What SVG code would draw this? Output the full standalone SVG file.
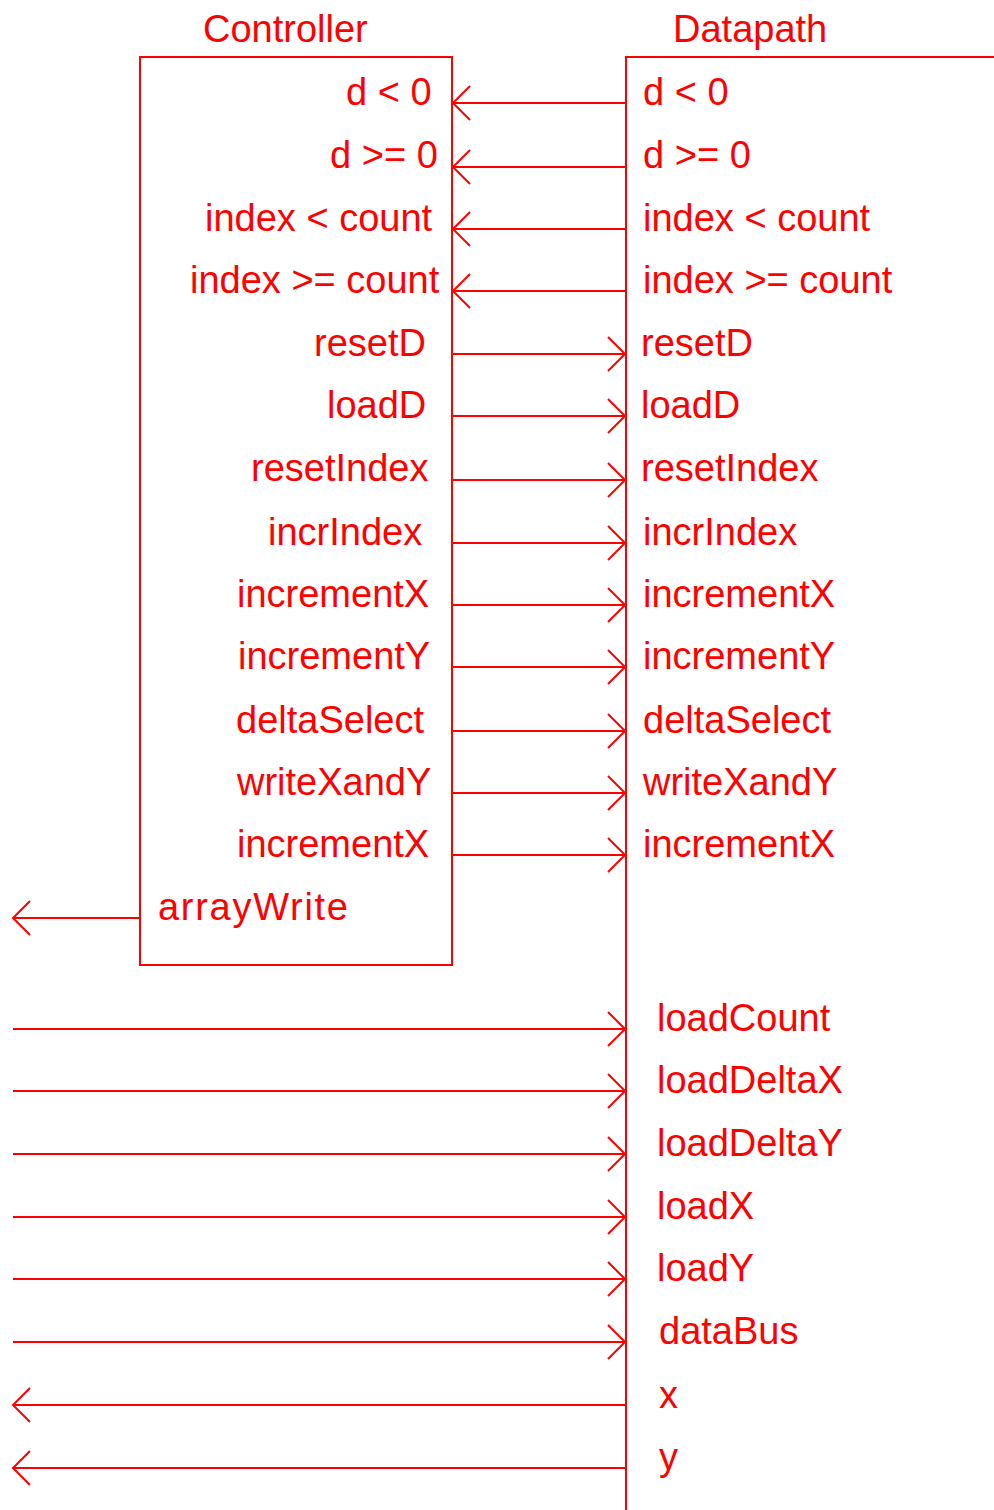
<svg xmlns="http://www.w3.org/2000/svg" width="994" height="1510" viewBox="0 0 994 1510">
<style>
text{font-family:"Liberation Sans",Arial,sans-serif;font-size:38px;fill:#ff0000}
.b{fill:none;stroke:#ff0000;stroke-width:2}
.c line{stroke:#ff0000;stroke-width:2;marker-end:url(#ah)}
</style>
<defs>
<marker id="ah" markerUnits="userSpaceOnUse" markerWidth="20" markerHeight="36" refX="18" refY="18" orient="auto" viewBox="0 0 20 36">
<path d="M1,1 L18,18 L1,35" fill="none" stroke="#ff0000" stroke-width="2"/>
</marker>
</defs>
<rect width="994" height="1510" fill="#fff"/>
<g id="controller">
<rect class="b" x="140" y="57" width="312" height="908"/>
<text x="203" y="42" font-size="39">Controller</text>
<text x="346" y="105">d &lt; 0</text>
<text x="330" y="168">d &gt;= 0</text>
<text x="205" y="231">index &lt; count</text>
<text x="190" y="293">index &gt;= count</text>
<text x="314" y="356">resetD</text>
<text x="327" y="418">loadD</text>
<text x="251" y="481">resetIndex</text>
<text x="268" y="545">incrIndex</text>
<text x="237" y="607">incrementX</text>
<text x="238" y="669">incrementY</text>
<text x="236" y="733">deltaSelect</text>
<text x="237" y="795">writeXandY</text>
<text x="237" y="857">incrementX</text>
<text x="158" y="920" textLength="190">arrayWrite</text>
</g>
<g id="datapath">
<path class="b" d="M994,57 H626 V1510"/>
<text x="673" y="42" font-size="39">Datapath</text>
<text x="643" y="105">d &lt; 0</text>
<text x="643" y="168">d &gt;= 0</text>
<text x="643" y="231">index &lt; count</text>
<text x="643" y="293">index &gt;= count</text>
<text x="641" y="356">resetD</text>
<text x="641" y="418">loadD</text>
<text x="641" y="481">resetIndex</text>
<text x="643" y="545">incrIndex</text>
<text x="643" y="607">incrementX</text>
<text x="643" y="669">incrementY</text>
<text x="643" y="733">deltaSelect</text>
<text x="643" y="795">writeXandY</text>
<text x="643" y="857">incrementX</text>
<text x="657" y="1031">loadCount</text>
<text x="657" y="1093">loadDeltaX</text>
<text x="657" y="1156">loadDeltaY</text>
<text x="657" y="1219">loadX</text>
<text x="657" y="1281">loadY</text>
<text x="659" y="1344">dataBus</text>
<text x="659" y="1408">x</text>
<text x="659" y="1470">y</text>
</g>
<g id="connectors" class="c">
<line x1="626" y1="103" x2="453" y2="103"/>
<line x1="626" y1="167" x2="453" y2="167"/>
<line x1="626" y1="229" x2="453" y2="229"/>
<line x1="626" y1="291" x2="453" y2="291"/>
<line x1="452" y1="354" x2="625" y2="354"/>
<line x1="452" y1="416" x2="625" y2="416"/>
<line x1="452" y1="480" x2="625" y2="480"/>
<line x1="452" y1="543" x2="625" y2="543"/>
<line x1="452" y1="605" x2="625" y2="605"/>
<line x1="452" y1="667" x2="625" y2="667"/>
<line x1="452" y1="731" x2="625" y2="731"/>
<line x1="452" y1="793" x2="625" y2="793"/>
<line x1="452" y1="855" x2="625" y2="855"/>
<line x1="140" y1="918" x2="13" y2="918"/>
<line x1="13" y1="1029" x2="625" y2="1029"/>
<line x1="13" y1="1091" x2="625" y2="1091"/>
<line x1="13" y1="1154" x2="625" y2="1154"/>
<line x1="13" y1="1217" x2="625" y2="1217"/>
<line x1="13" y1="1279" x2="625" y2="1279"/>
<line x1="13" y1="1342" x2="625" y2="1342"/>
<line x1="626" y1="1405" x2="13" y2="1405"/>
<line x1="626" y1="1468" x2="13" y2="1468"/>
</g>
</svg>
